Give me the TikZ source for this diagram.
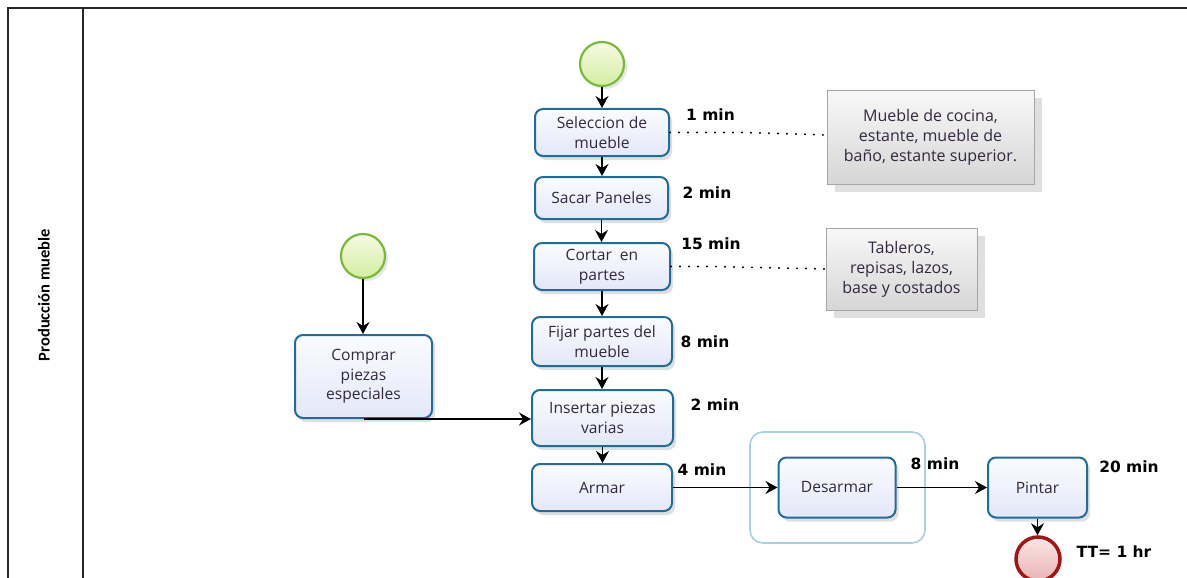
\documentclass[tikz,border=0pt]{standalone}
\usepackage{fontspec}
\setmainfont{Open Sans}
\newfontfamily\tagfont{DejaVu Sans}
\newfontfamily\lanefont{Carlito}
\usetikzlibrary{arrows.meta,shadows}

\definecolor{taskline}{HTML}{1E6D9A}
\definecolor{tasktop}{HTML}{FBFCFF}
\definecolor{taskbot}{HTML}{E3E7F8}
\definecolor{tasktext}{HTML}{33283F}
\definecolor{startline}{HTML}{7AB93A}
\definecolor{starttop}{HTML}{F6FBE4}
\definecolor{startbot}{HTML}{D3EDA0}
\definecolor{endline}{HTML}{A31414}
\definecolor{endtop}{HTML}{FBE6E6}
\definecolor{endbot}{HTML}{E8B4B4}
\definecolor{grpline}{HTML}{A9CFE0}
\definecolor{notetop}{HTML}{F8F8F8}
\definecolor{notebot}{HTML}{D6D6D6}
\definecolor{noteline}{HTML}{A6A6A6}

\tikzset{
  task/.style={draw=taskline, line width=2pt, rounded corners=8pt,
    top color=tasktop, bottom color=taskbot, align=center,
    text=tasktext, font=\fontsize{15.6}{19.5}\selectfont, inner sep=1pt,
    drop shadow={opacity=0.25, shadow xshift=3pt, shadow yshift=-4pt}},
  startev/.style={circle, draw=startline, line width=2.2pt,
    top color=starttop, bottom color=startbot, minimum size=44pt, inner sep=0pt,
    drop shadow={opacity=0.2, shadow xshift=3pt, shadow yshift=-3pt}},
  endev/.style={circle, draw=endline, line width=3.5pt,
    top color=endtop, bottom color=endbot, minimum size=44pt, inner sep=0pt},
  note/.style={draw=noteline, line width=0.8pt, top color=notetop, bottom color=notebot,
    align=center, text=tasktext, font=\fontsize{16}{20}\selectfont, inner sep=1pt,
    drop shadow={opacity=0.25, shadow xshift=8pt, shadow yshift=-8pt}},
  tag/.style={font=\tagfont\bfseries\fontsize{15.5}{17}\selectfont, inner sep=0pt},
  flow/.style={line width=1.3pt, -{Stealth[length=12pt,width=13pt,inset=4pt]}},
  assoc/.style={line width=2.2pt, line cap=round, dash pattern=on 0pt off 9pt},
  lane/.style={line width=1.4pt, draw=black!85},
  grp/.style={draw=grpline, line width=1.6pt, rounded corners=13pt}
}

\begin{document}
\begin{tikzpicture}[x=1pt,y=-1pt]
\useasboundingbox (0,0) rectangle (1187,578);

% pool and lane frame
\draw[lane] (8,580) -- (8,8) -- (1187,8);
\draw[lane] (83,8) -- (83,580);
\node[rotate=90, font=\lanefont\bfseries\fontsize{16.5}{18}\selectfont] (lanelabel) at (44,295) {Producción mueble};

% group around the disassembly step
\draw[grp] (750,432) rectangle (925,543);

% annotations
\node[note, minimum width=207pt, minimum height=94pt] (ann1) at (930.5,137)
  {Mueble de cocina,\\estante, mueble de\\baño, estante superior.};
\node[note, minimum width=151pt, minimum height=82pt] (ann2) at (901.5,269)
  {Tableros,\\repisas, lazos,\\base y costados};

% events
\node[startev] (start1) at (602,64) {};
\node[startev] (start2) at (363,256) {};
\node[endev] (fin) at (1038,559) {};

% tasks
\node[task, minimum width=134pt, minimum height=47pt] (sel) at (602,132.5) {Seleccion de\\mueble};
\node[task, minimum width=133pt, minimum height=42pt] (sacar) at (601.5,198) {Sacar Paneles};
\node[task, minimum width=136pt, minimum height=47pt] (cortar) at (602,266.5) {Cortar~ en\\partes};
\node[task, minimum width=140pt, minimum height=49pt] (fijar) at (602,341.5) {Fijar partes del\\mueble};
\node[task, minimum width=141pt, minimum height=56pt] (insertar) at (602.5,418) {Insertar piezas\\varias};
\node[task, minimum width=140pt, minimum height=47pt] (armar) at (602,487.5) {Armar};
\node[task, minimum width=117pt, minimum height=60pt] (desarmar) at (837,487.5) {Desarmar};
\node[task, minimum width=99pt, minimum height=60pt] (pintar) at (1037.5,487.5) {Pintar};
\node[task, minimum width=137pt, minimum height=83pt] (comprar) at (363.5,376.5) {Comprar\\piezas\\especiales};

% durations
\node[tag] (t1) at (710.5,115) {1 min};
\node[tag] (t2) at (707,193) {2 min};
\node[tag] (t3) at (711,244) {15 min};
\node[tag] (t4) at (705,342) {8 min};
\node[tag] (t5) at (715,405) {2 min};
\node[tag] (t6) at (702,470) {4 min};
\node[tag] (t7) at (935,464) {8 min};
\node[tag] (t8) at (1129,467) {20 min};
\node[tag] (tt) at (1114,552) {TT= 1 hr};

% sequence flows
\draw[flow] (start1.south) -- (start1.south |- sel.north);
\draw[flow] (sel.south) -- (sel.south |- sacar.north);
\draw[flow] (sacar.south) -- (sacar.south |- cortar.north);
\draw[flow] (cortar.south) -- (cortar.south |- fijar.north);
\draw[flow] (fijar.south) -- (fijar.south |- insertar.north);
\draw[flow] (insertar.south) -- (insertar.south |- armar.north);
\draw[flow] (armar.east) -- (desarmar.west);
\draw[flow] (desarmar.east) -- (pintar.west);
\draw[flow] (pintar.south) -- (pintar.south |- fin.north);
\draw[flow] (start2.south) -- (start2.south |- comprar.north);
\draw[flow] (comprar.south) -- (comprar.south -| insertar.west);

% associations to the notes
\draw[assoc] (sel.east) -- ++(76,0) -- ([yshift=2pt]ann1.west);
\draw[assoc] (cortar.east) -- ++(40,0) -- (ann2.west);
\end{tikzpicture}
\end{document}
